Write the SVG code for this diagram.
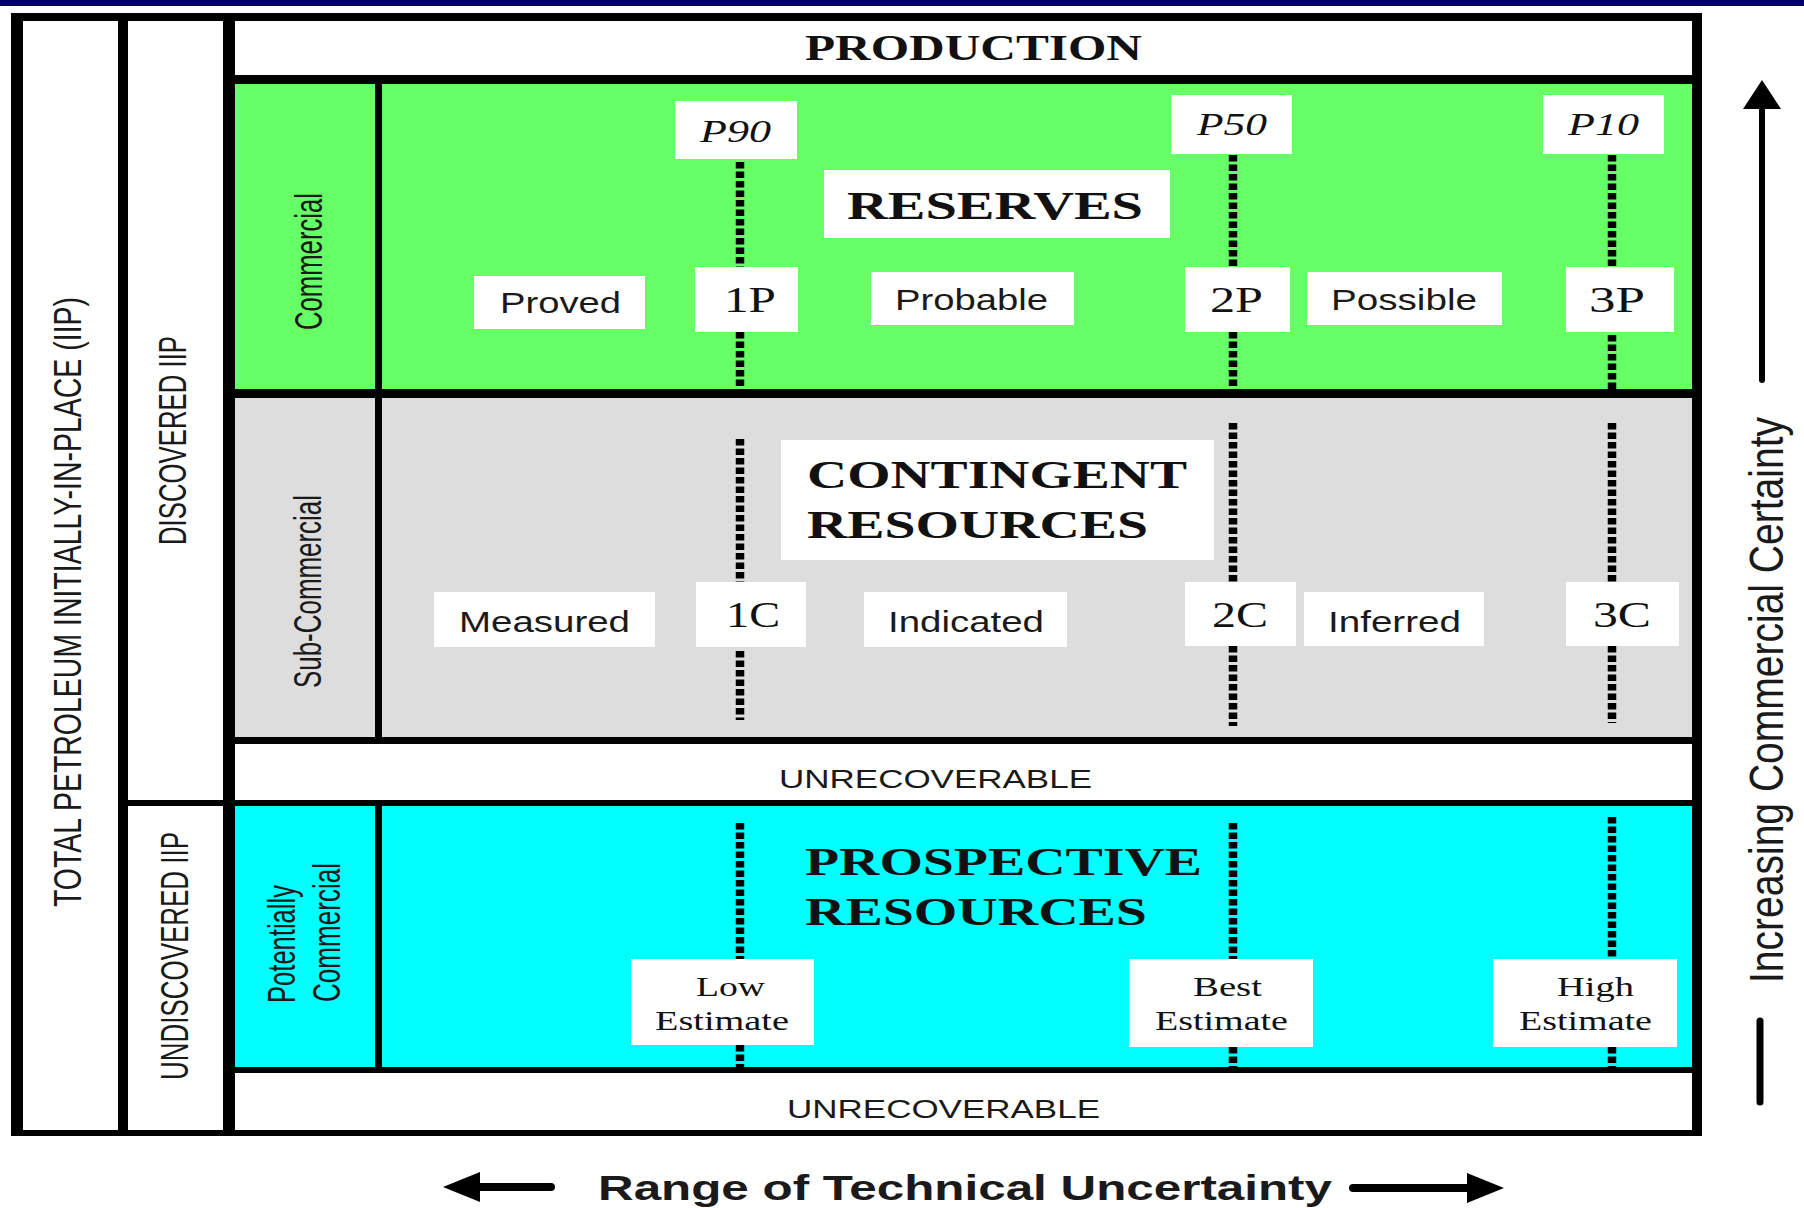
<svg xmlns="http://www.w3.org/2000/svg" width="1804" height="1208" viewBox="0 0 1804 1208">
<style>
.bd{fill:#000}
.box{fill:#fff}
.dot{stroke:#000;stroke-width:8.5;stroke-dasharray:6.5 3;fill:none}
.serif{font-family:"Liberation Serif","Times New Roman",serif;fill:#111}
.sans{font-family:"Liberation Sans",Arial,sans-serif;fill:#1a1a1a}
.big{font-size:39px;font-weight:bold}
.prod{font-size:36px;font-weight:bold}
.pl{font-size:32px;font-style:italic}
.num{font-size:36px}
.lab{font-size:29px}
.est{font-size:28px}
.unr{font-size:25px}
.rot{font-size:39px}
.rng{font-size:35px;font-weight:bold}
.ax{stroke:#000;stroke-width:7;stroke-linecap:round;fill:none}
</style>
<rect width="1804" height="1208" fill="#fff"/>
<rect x="0" y="0" width="1804" height="6" fill="#000066"/>

<g id="regions">
  <rect x="235" y="84" width="1457" height="305" fill="#66FF66"/>
  <rect x="235" y="398" width="1457" height="339" fill="#DDDDDD"/>
  <rect x="235" y="806" width="1457" height="261" fill="#00FFFF"/>
</g>

<g id="frame">
  <rect class="bd" x="11" y="13" width="12" height="1123"/>
  <rect class="bd" x="11" y="13" width="1691" height="8"/>
  <rect class="bd" x="1692" y="13" width="10" height="1123"/>
  <rect class="bd" x="11" y="1130" width="1691" height="6"/>
  <rect class="bd" x="118" y="13" width="10" height="1123"/>
  <rect class="bd" x="223" y="13" width="12" height="1123"/>
  <rect class="bd" x="128" y="800" width="95" height="6"/>
  <rect class="bd" x="235" y="75" width="1457" height="9"/>
  <rect class="bd" x="235" y="389" width="1457" height="9"/>
  <rect class="bd" x="235" y="737" width="1457" height="7"/>
  <rect class="bd" x="235" y="800" width="1457" height="6"/>
  <rect class="bd" x="235" y="1067" width="1457" height="6"/>
  <rect class="bd" x="375" y="84" width="7" height="653"/>
  <rect class="bd" x="375" y="806" width="7" height="261"/>
</g>

<g id="connectors">
  <line class="dot" x1="740" y1="162" x2="740" y2="267"/>
  <line class="dot" x1="740" y1="332" x2="740" y2="389"/>
  <line class="dot" x1="1233" y1="155" x2="1233" y2="267"/>
  <line class="dot" x1="1233" y1="332" x2="1233" y2="389"/>
  <line class="dot" x1="1612" y1="155" x2="1612" y2="267"/>
  <line class="dot" x1="1612" y1="335" x2="1612" y2="389"/>
  <line class="dot" x1="740" y1="439" x2="740" y2="582"/>
  <line class="dot" x1="740" y1="651" x2="740" y2="720"/>
  <line class="dot" x1="1233" y1="423" x2="1233" y2="582"/>
  <line class="dot" x1="1233" y1="646" x2="1233" y2="726"/>
  <line class="dot" x1="1612" y1="423" x2="1612" y2="582"/>
  <line class="dot" x1="1612" y1="646" x2="1612" y2="723"/>
  <line class="dot" x1="740" y1="823" x2="740" y2="959"/>
  <line class="dot" x1="740" y1="1045" x2="740" y2="1067"/>
  <line class="dot" x1="1233" y1="823" x2="1233" y2="959"/>
  <line class="dot" x1="1233" y1="1047" x2="1233" y2="1067"/>
  <line class="dot" x1="1612" y1="817" x2="1612" y2="959"/>
  <line class="dot" x1="1612" y1="1047" x2="1612" y2="1067"/>
</g>

<g id="total-iip"><text class="sans rot" transform="translate(81,907) rotate(-90)" textLength="610" lengthAdjust="spacingAndGlyphs">TOTAL PETROLEUM INITIALLY-IN-PLACE (IIP)</text></g>
<g id="discovered-iip"><text class="sans rot" transform="translate(186,545) rotate(-90)" textLength="209" lengthAdjust="spacingAndGlyphs">DISCOVERED IIP</text></g>
<g id="undiscovered-iip"><text class="sans rot" transform="translate(188,1080) rotate(-90)" textLength="248" lengthAdjust="spacingAndGlyphs">UNDISCOVERED IIP</text></g>
<g id="commercial"><text class="sans rot" transform="translate(322,330) rotate(-90)" textLength="137" lengthAdjust="spacingAndGlyphs">Commercial</text></g>
<g id="sub-commercial"><text class="sans rot" transform="translate(321,688) rotate(-90)" textLength="193" lengthAdjust="spacingAndGlyphs">Sub-Commercial</text></g>
<g id="potentially-commercial">
  <text class="sans" style="font-size:38px" transform="translate(295,1003) rotate(-90)" textLength="118" lengthAdjust="spacingAndGlyphs">Potentially</text>
  <text class="sans" style="font-size:38px" transform="translate(340,1002) rotate(-90)" textLength="139" lengthAdjust="spacingAndGlyphs">Commercial</text>
</g>

<g id="production"><text class="serif prod" x="805" y="60" textLength="337" lengthAdjust="spacingAndGlyphs">PRODUCTION</text></g>

<g id="reserves">
  <rect class="box" x="824" y="170" width="346" height="68"/>
  <text class="serif big" x="847" y="219" textLength="296" lengthAdjust="spacingAndGlyphs">RESERVES</text>
</g>
<g id="p90"><rect class="box" x="675" y="101" width="122" height="58"/><text class="serif pl" x="700" y="142" textLength="71" lengthAdjust="spacingAndGlyphs">P90</text></g>
<g id="p50"><rect class="box" x="1171" y="95" width="121" height="59"/><text class="serif pl" x="1197" y="135" textLength="70" lengthAdjust="spacingAndGlyphs">P50</text></g>
<g id="p10"><rect class="box" x="1543" y="95" width="121" height="59"/><text class="serif pl" x="1568" y="135" textLength="71" lengthAdjust="spacingAndGlyphs">P10</text></g>

<g id="proved"><rect class="box" x="474" y="276" width="171" height="53"/><text class="sans lab" x="500" y="313" textLength="121" lengthAdjust="spacingAndGlyphs">Proved</text></g>
<g id="1p"><rect class="box" x="695" y="267" width="103" height="65"/><text class="serif num" x="724" y="312" textLength="52" lengthAdjust="spacingAndGlyphs">1P</text></g>
<g id="probable"><rect class="box" x="871" y="272" width="203" height="53"/><text class="sans lab" x="895" y="310" textLength="153" lengthAdjust="spacingAndGlyphs">Probable</text></g>
<g id="2p"><rect class="box" x="1185" y="267" width="105" height="65"/><text class="serif num" x="1210" y="312" textLength="53" lengthAdjust="spacingAndGlyphs">2P</text></g>
<g id="possible"><rect class="box" x="1307" y="272" width="195" height="53"/><text class="sans lab" x="1331" y="310" textLength="146" lengthAdjust="spacingAndGlyphs">Possible</text></g>
<g id="3p"><rect class="box" x="1566" y="267" width="108" height="65"/><text class="serif num" x="1589" y="312" textLength="56" lengthAdjust="spacingAndGlyphs">3P</text></g>

<g id="contingent">
  <rect class="box" x="781" y="440" width="433" height="120"/>
  <text class="serif big" x="807" y="488" textLength="380" lengthAdjust="spacingAndGlyphs">CONTINGENT</text>
  <text class="serif big" x="807" y="538" textLength="341" lengthAdjust="spacingAndGlyphs">RESOURCES</text>
</g>
<g id="measured"><rect class="box" x="434" y="592" width="221" height="55"/><text class="sans lab" x="459" y="632" textLength="171" lengthAdjust="spacingAndGlyphs">Measured</text></g>
<g id="1c"><rect class="box" x="696" y="582" width="110" height="65"/><text class="serif num" x="726" y="627" textLength="54" lengthAdjust="spacingAndGlyphs">1C</text></g>
<g id="indicated"><rect class="box" x="864" y="592" width="203" height="55"/><text class="sans lab" x="888" y="632" textLength="156" lengthAdjust="spacingAndGlyphs">Indicated</text></g>
<g id="2c"><rect class="box" x="1185" y="582" width="111" height="64"/><text class="serif num" x="1212" y="627" textLength="56" lengthAdjust="spacingAndGlyphs">2C</text></g>
<g id="inferred"><rect class="box" x="1304" y="592" width="180" height="54"/><text class="sans lab" x="1328" y="632" textLength="133" lengthAdjust="spacingAndGlyphs">Inferred</text></g>
<g id="3c"><rect class="box" x="1566" y="582" width="113" height="64"/><text class="serif num" x="1593" y="627" textLength="58" lengthAdjust="spacingAndGlyphs">3C</text></g>

<g id="unrecoverable-1"><text class="sans unr" x="779" y="788" textLength="313" lengthAdjust="spacingAndGlyphs">UNRECOVERABLE</text></g>

<g id="prospective">
  <text class="serif big" x="805" y="875" textLength="397" lengthAdjust="spacingAndGlyphs">PROSPECTIVE</text>
  <text class="serif big" x="805" y="925" textLength="342" lengthAdjust="spacingAndGlyphs">RESOURCES</text>
</g>
<g id="low-estimate"><rect class="box" x="631" y="959" width="183" height="86"/>
  <text class="serif est" x="696" y="996" textLength="69" lengthAdjust="spacingAndGlyphs">Low</text>
  <text class="serif est" x="655" y="1030" textLength="134" lengthAdjust="spacingAndGlyphs">Estimate</text></g>
<g id="best-estimate"><rect class="box" x="1129" y="959" width="184" height="88"/>
  <text class="serif est" x="1193" y="996" textLength="69" lengthAdjust="spacingAndGlyphs">Best</text>
  <text class="serif est" x="1155" y="1030" textLength="133" lengthAdjust="spacingAndGlyphs">Estimate</text></g>
<g id="high-estimate"><rect class="box" x="1493" y="959" width="184" height="88"/>
  <text class="serif est" x="1557" y="996" textLength="77" lengthAdjust="spacingAndGlyphs">High</text>
  <text class="serif est" x="1519" y="1030" textLength="133" lengthAdjust="spacingAndGlyphs">Estimate</text></g>

<g id="unrecoverable-2"><text class="sans unr" x="787" y="1118" textLength="313" lengthAdjust="spacingAndGlyphs">UNRECOVERABLE</text></g>

<g id="commercial-certainty-axis">
  <line class="ax" x1="1762" y1="104" x2="1762" y2="380" style="stroke-width:6"/>
  <polygon points="1762,80 1743,109 1781,109" fill="#000"/>
  <line class="ax" x1="1760" y1="1021" x2="1760" y2="1102"/>
  <text class="sans" style="font-size:48px" transform="translate(1783,983) rotate(-90)" textLength="566" lengthAdjust="spacingAndGlyphs">Increasing Commercial Certainty</text>
</g>

<g id="technical-uncertainty-axis">
  <line class="ax" x1="475" y1="1187" x2="551" y2="1187" style="stroke-width:8"/>
  <polygon points="443,1187 480,1172 480,1202" fill="#000"/>
  <line class="ax" x1="1353" y1="1188" x2="1472" y2="1188" style="stroke-width:8"/>
  <polygon points="1504,1188 1467,1173 1467,1203" fill="#000"/>
  <text class="sans rng" x="598" y="1200" textLength="734" lengthAdjust="spacingAndGlyphs">Range of Technical Uncertainty</text>
</g>
</svg>
